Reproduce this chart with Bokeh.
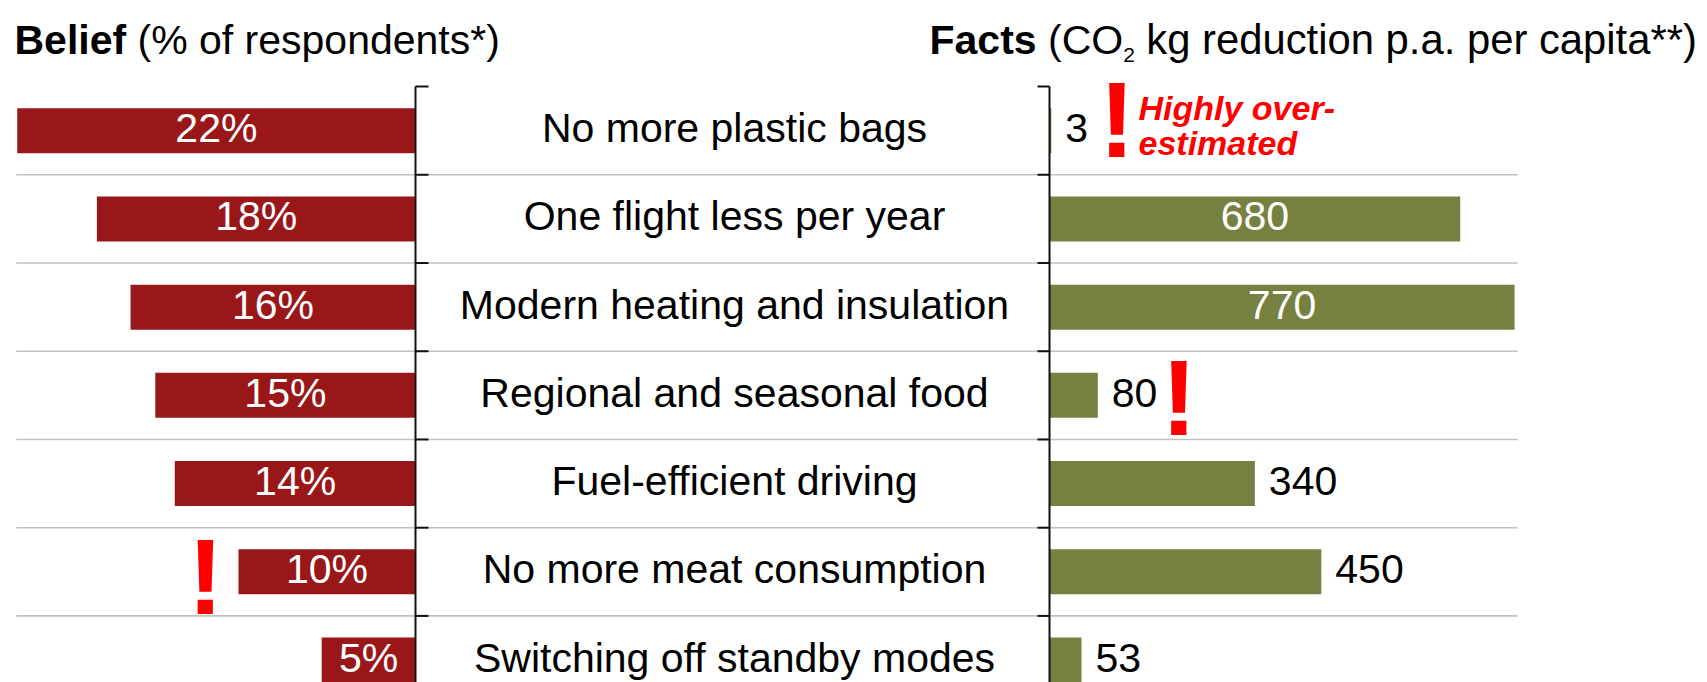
from bokeh.plotting import figure
from bokeh.models import Range1d, ColumnDataSource, Label
from bokeh.core.properties import value
from bokeh.embed import file_html
from bokeh.resources import INLINE

# ---------------- data ----------------
categories = [
    "No more plastic bags",
    "One flight less per year",
    "Modern heating and insulation",
    "Regional and seasonal food",
    "Fuel-efficient driving",
    "No more meat consumption",
    "Switching off standby modes",
]
belief_pct = [22.5, 18.0, 16.1, 14.7, 13.6, 10.0, 5.3]
belief_labels = ["22%", "18%", "16%", "15%", "14%", "10%", "5%"]
facts_kg = [3, 680, 770, 80, 340, 450, 53]
facts_labels = ["3", "680", "770", "80", "340", "450", "53"]

# ---------------- style / geometry ----------------
FONT = "Liberation Sans"
RED = "#9A1719"
GREEN = "#768040"
ALERT = "#FF0000"
SEP = "#C2C2BA"
W, H = 1707, 682
ROW0, ROW_H = 130.2, 88.22
BELIEF_ZERO, BELIEF_PX = 415.0, 17.7
FACTS_ZERO, FACTS_PX = 1049.0, 0.604
BAR_H = 0.51
INSIDE_MIN = 600

p = figure(width=W, height=H, x_range=Range1d(0, W), y_range=Range1d(H, 0),
           output_backend="svg", toolbar_location=None, min_border=0,
           x_axis_location=None, y_axis_location=None)
p.grid.visible = False
p.outline_line_color = None
p.background_fill_color = "white"
p.border_fill_color = "white"

p.extra_x_ranges = {
    "belief": Range1d(start=BELIEF_ZERO / BELIEF_PX, end=(BELIEF_ZERO - W) / BELIEF_PX),
    "facts": Range1d(start=-FACTS_ZERO / FACTS_PX, end=(W - FACTS_ZERO) / FACTS_PX),
}
p.extra_y_ranges = {"rows": Range1d(start=(H - ROW0) / ROW_H, end=-ROW0 / ROW_H)}

rows = list(range(len(categories)))
src = ColumnDataSource(dict(
    row=rows, cat=categories, belief=belief_pct, blab=belief_labels,
    bmid=[b / 2 for b in belief_pct], facts=facts_kg,
))

inside = [i for i in rows if facts_kg[i] >= INSIDE_MIN]
outside = [i for i in rows if facts_kg[i] < INSIDE_MIN]
src_in = ColumnDataSource(dict(row=inside, x=[facts_kg[i] / 2 for i in inside],
                               t=[facts_labels[i] for i in inside]))
src_out = ColumnDataSource(dict(row=outside, x=[facts_kg[i] for i in outside],
                                t=[facts_labels[i] for i in outside]))

# separators between rows
bounds = [r + 0.5 for r in rows]
p.segment(x0=15.7, x1=1517.3, y0=bounds, y1=bounds, y_range_name="rows",
          line_color=SEP, line_width=1.6)

# bars
p.hbar(y="row", left=0, right="belief", height=BAR_H, source=src,
       x_range_name="belief", y_range_name="rows", fill_color=RED, line_color=None)
p.hbar(y="row", left=0, right="facts", height=BAR_H, source=src,
       x_range_name="facts", y_range_name="rows", fill_color=GREEN, line_color=None)

# bracket axes
ticks = [r - 0.5 for r in rows] + [rows[-1] + 0.5]
p.segment(x0=0, x1=0, y0=-0.5, y1=rows[-1] + 0.5, x_range_name="belief", y_range_name="rows",
          line_color="#111111", line_width=2)
p.segment(x0=BELIEF_ZERO, x1=BELIEF_ZERO + 13, y0=ticks, y1=ticks, y_range_name="rows",
          line_color="#111111", line_width=2)
p.segment(x0=0, x1=0, y0=-0.5, y1=rows[-1] + 0.5, x_range_name="facts", y_range_name="rows",
          line_color="#111111", line_width=2)
p.segment(x0=FACTS_ZERO, x1=FACTS_ZERO - 12, y0=ticks, y1=ticks, y_range_name="rows",
          line_color="#111111", line_width=2)

# labels
common = dict(text_font=value(FONT), text_font_size="41px", text_baseline="middle", y_offset=-2.5)
p.text(x="bmid", y="row", text="blab", source=src, x_range_name="belief", y_range_name="rows",
       text_align="center", text_color="white", **common)
p.text(x=734, y="row", text="cat", source=src, y_range_name="rows",
       text_align="center", text_color="black", **common)
p.text(x="x", y="row", text="t", source=src_in, x_range_name="facts", y_range_name="rows",
       text_align="center", text_color="white", **common)
p.text(x="x", y="row", text="t", source=src_out, x_range_name="facts", y_range_name="rows",
       text_align="left", text_color="black", x_offset=14, **common)


def label(text, x, y_mid, size, style="normal", color="black", align="left"):
    p.add_layout(Label(x=x, y=y_mid, text=text, text_font=FONT, text_font_size=size,
                       text_font_style=style, text_color=color, text_align=align,
                       text_baseline="middle"))


# titles (y = visual middle of the capitals)
TY = 39.0
label("Belief", 14, TY, "41px", "bold")
label("(% of respondents*)", 14 + 111.6 + 11.4, TY, "41px")
fx = 929
label("Facts", fx, TY, "41px", "bold")
label("(CO", fx + 107.1 + 11.4, TY, "41px")
label("2", fx + 107.1 + 86.55, 54.3, "21px")
label("kg reduction p.a. per capita**)", fx + 107.1 + 86.55 + 11.7 + 11.4, TY, "41.8px")

# alerts
label("!", 1116.4, 118.5, "108px", "bold", ALERT, "center")
label("!", 1178.5, 396.5, "108px", "bold", ALERT, "center")
label("!", 205, 575.5, "108px", "bold", ALERT, "center")
label("Highly over-", 1138, 107.5, "34px", "bold italic", ALERT)
label("estimated", 1138, 142.2, "34px", "bold italic", ALERT)

open("out.html", "w").write(file_html(p, INLINE))
